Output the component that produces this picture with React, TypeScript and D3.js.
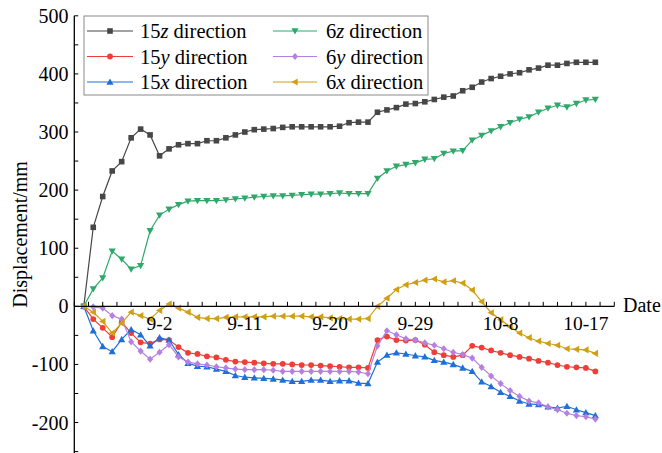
import React from "react";
import * as d3 from "d3";

// day index 1..55 (day 0 = 8-24)
const days = d3.range(1, 56);

const z15 = [0, 136, 189, 233, 249, 290, 305, 295, 259, 271, 278, 280, 280, 285, 285, 290, 295, 300, 304, 305, 306, 308, 309, 309, 309, 309, 309, 310, 316, 317, 317, 334, 338, 342, 348, 349, 352, 356, 360, 362, 371, 377, 386, 392, 396, 400, 402, 407, 410, 415, 415, 418, 420, 420, 420];
const y15 = [0, -22, -37, -53, -27, -46, -62, -64, -57, -58, -70, -80, -82, -86, -88, -92, -95, -96, -97, -98, -99, -99, -100, -101, -101, -102, -103, -104, -105, -105, -106, -58, -52, -58, -59, -58, -66, -79, -84, -87, -84, -68, -71, -76, -80, -84, -87, -90, -94, -97, -101, -104, -105, -106, -112];
const x15 = [0, -42, -69, -78, -57, -40, -49, -68, -54, -58, -83, -98, -103, -104, -108, -112, -119, -122, -123, -124, -125, -127, -129, -129, -127, -127, -129, -128, -128, -132, -133, -96, -84, -80, -82, -85, -87, -93, -96, -100, -106, -112, -130, -138, -148, -155, -163, -168, -169, -173, -175, -172, -178, -183, -188];
const z6 = [0, 30, 49, 95, 81, 64, 70, 130, 157, 167, 175, 181, 182, 182, 182, 183, 185, 186, 188, 189, 190, 190, 191, 192, 193, 193, 194, 195, 194, 194, 194, 220, 233, 241, 244, 247, 253, 254, 263, 267, 268, 286, 294, 302, 309, 316, 322, 326, 334, 341, 346, 343, 349, 355, 356];
const y6 = [0, -1, -3, -16, -22, -61, -77, -91, -79, -66, -87, -96, -99, -101, -104, -106, -108, -109, -109, -109, -110, -112, -112, -112, -112, -112, -112, -112, -112, -113, -116, -68, -42, -49, -56, -58, -63, -67, -73, -79, -83, -89, -105, -120, -133, -145, -155, -163, -166, -173, -178, -184, -188, -190, -194];
const x6 = [0, -10, -26, -46, -29, -10, -16, -22, -7, 4, -3, -10, -19, -21, -21, -19, -18, -18, -18, -18, -17, -17, -17, -17, -18, -18, -20, -21, -22, -22, -21, 0, 14, 29, 37, 41, 45, 47, 42, 44, 40, 28, 8, -11, -23, -35, -46, -54, -60, -64, -67, -73, -74, -75, -81];

const xTickDays = [9, 18, 27, 36, 45, 54];
const xTickLabels = ["9-2", "9-11", "9-20", "9-29", "10-8", "10-17"];
const yTickValues = [-200, -100, 0, 100, 200, 300, 400, 500];

type Shape = "square" | "circle" | "up" | "down" | "diamond" | "left";
const series: { num: string; axis: string; values: number[]; color: string; shape: Shape }[] = [
  { num: "15", axis: "z", values: z15, color: "#474747", shape: "square" },
  { num: "15", axis: "y", values: y15, color: "#ee3e38", shape: "circle" },
  { num: "15", axis: "x", values: x15, color: "#1f6fd6", shape: "up" },
  { num: "6", axis: "z", values: z6, color: "#2fa86a", shape: "down" },
  { num: "6", axis: "y", values: y6, color: "#b580e0", shape: "diamond" },
  { num: "6", axis: "x", values: x6, color: "#cfa013", shape: "left" },
];

const FONT = "Liberation Serif";

function markerPath(shape: Shape): string {
  const r = 3.6;
  switch (shape) {
    case "square":
      return `M${-2.8},${-2.8}h5.6v5.6h-5.6Z`;
    case "circle":
      return d3.symbol(d3.symbolCircle, 26)() as string;
    case "up":
      return `M0,${-r}L${r},${r * 0.75}L${-r},${r * 0.75}Z`;
    case "down":
      return `M0,${r}L${r},${-r * 0.75}L${-r},${-r * 0.75}Z`;
    case "left":
      return `M${-r},0L${r * 0.75},${-r}L${r * 0.75},${r}Z`;
    case "diamond":
      return `M0,${-r}L${r * 0.85},0L0,${r}L${-r * 0.85},0Z`;
  }
}

export default function App() {
  const W = 662;
  const H = 453;
  const x = d3.scaleLinear().domain([0, 57]).range([74.3, 614.3]);
  const y = d3.scaleLinear().domain([-250, 500]).range([451.6, 15.8]);
  const line = d3
    .line<number>()
    .x((_, i) => x(days[i]))
    .y((v) => y(v));

  const minorX = d3.range(0, 57.01, 1.5);
  const minorY = d3.range(-250, 500.01, 50);
  const y0 = y(0);

  const legendRows = [31, 56.5, 82];
  const legendCols = [
    { lx1: 87, lx2: 133, tx: 140 },
    { lx1: 273, lx2: 317, tx: 326 },
  ];

  return (
    <svg
      width={W}
      height={H}
      style={{ position: "absolute", left: 0, top: 0, background: "#fff" }}
      fontFamily={FONT}
    >
      <rect x={0} y={0} width={W} height={H} fill="#fff" />
      {/* series */}
      {series.map((s, si) => (
        <g key={si}>
          <path d={line(s.values) as string} fill="none" stroke={s.color} strokeWidth={1.2} />
          {s.values.map((v, i) => (
            <path
              key={i}
              d={markerPath(s.shape)}
              transform={`translate(${x(days[i])},${y(v)})`}
              fill={s.color}
            />
          ))}
        </g>
      ))}

      {/* y axis */}
      <line x1={x(0)} x2={x(0)} y1={y(500)} y2={H} stroke="#000" strokeWidth={1.3} />
      {minorY.map((v) => (
        <line key={"my" + v} x1={x(0)} x2={x(0) + 4} y1={y(v)} y2={y(v)} stroke="#000" strokeWidth={1} />
      ))}
      {yTickValues.map((v) => (
        <text key={"yt" + v} x={68.5} y={y(v)} dy="0.35em" textAnchor="end" fontSize={20} fill="#000">
          {v}
        </text>
      ))}

      {/* x axis */}
      <line x1={x(0)} x2={x(57)} y1={y0} y2={y0} stroke="#000" strokeWidth={1.3} />
      {minorX.map((d) => (
        <line key={"mx" + d} x1={x(d)} x2={x(d)} y1={y0} y2={y0 - 4.5} stroke="#000" strokeWidth={1} />
      ))}
      {xTickDays.map((d, i) => (
        <text key={"xt" + d} x={x(d)} y={329.5} textAnchor="middle" fontSize={19.5} fill="#000">
          {xTickLabels[i]}
        </text>
      ))}
      <text x={623} y={312} fontSize={20} fill="#000">
        Date
      </text>
      <text
        transform={`translate(27,${(y(500) + H) / 2}) rotate(-90)`}
        textAnchor="middle"
        fontSize={20}
        fill="#000"
      >
        Displacement/mm
      </text>

      {/* legend */}
      <rect x={84} y={16} width={344} height={79} fill="#fff" stroke="#8a8a8a" strokeWidth={1} />
      {series.map((s, si) => {
        const col = legendCols[Math.floor(si / 3)];
        const ry = legendRows[si % 3];
        return (
          <g key={"lg" + si}>
            <line x1={col.lx1} x2={col.lx2} y1={ry} y2={ry} stroke={s.color} strokeWidth={1.2} />
            <path d={markerPath(s.shape)} transform={`translate(${(col.lx1 + col.lx2) / 2},${ry})`} fill={s.color} />
            <text x={col.tx} y={ry} dy="0.35em" fontSize={20.5} fill="#000">
              {s.num}
              <tspan fontStyle="italic">{s.axis}</tspan> direction
            </text>
          </g>
        );
      })}
    </svg>
  );
}
